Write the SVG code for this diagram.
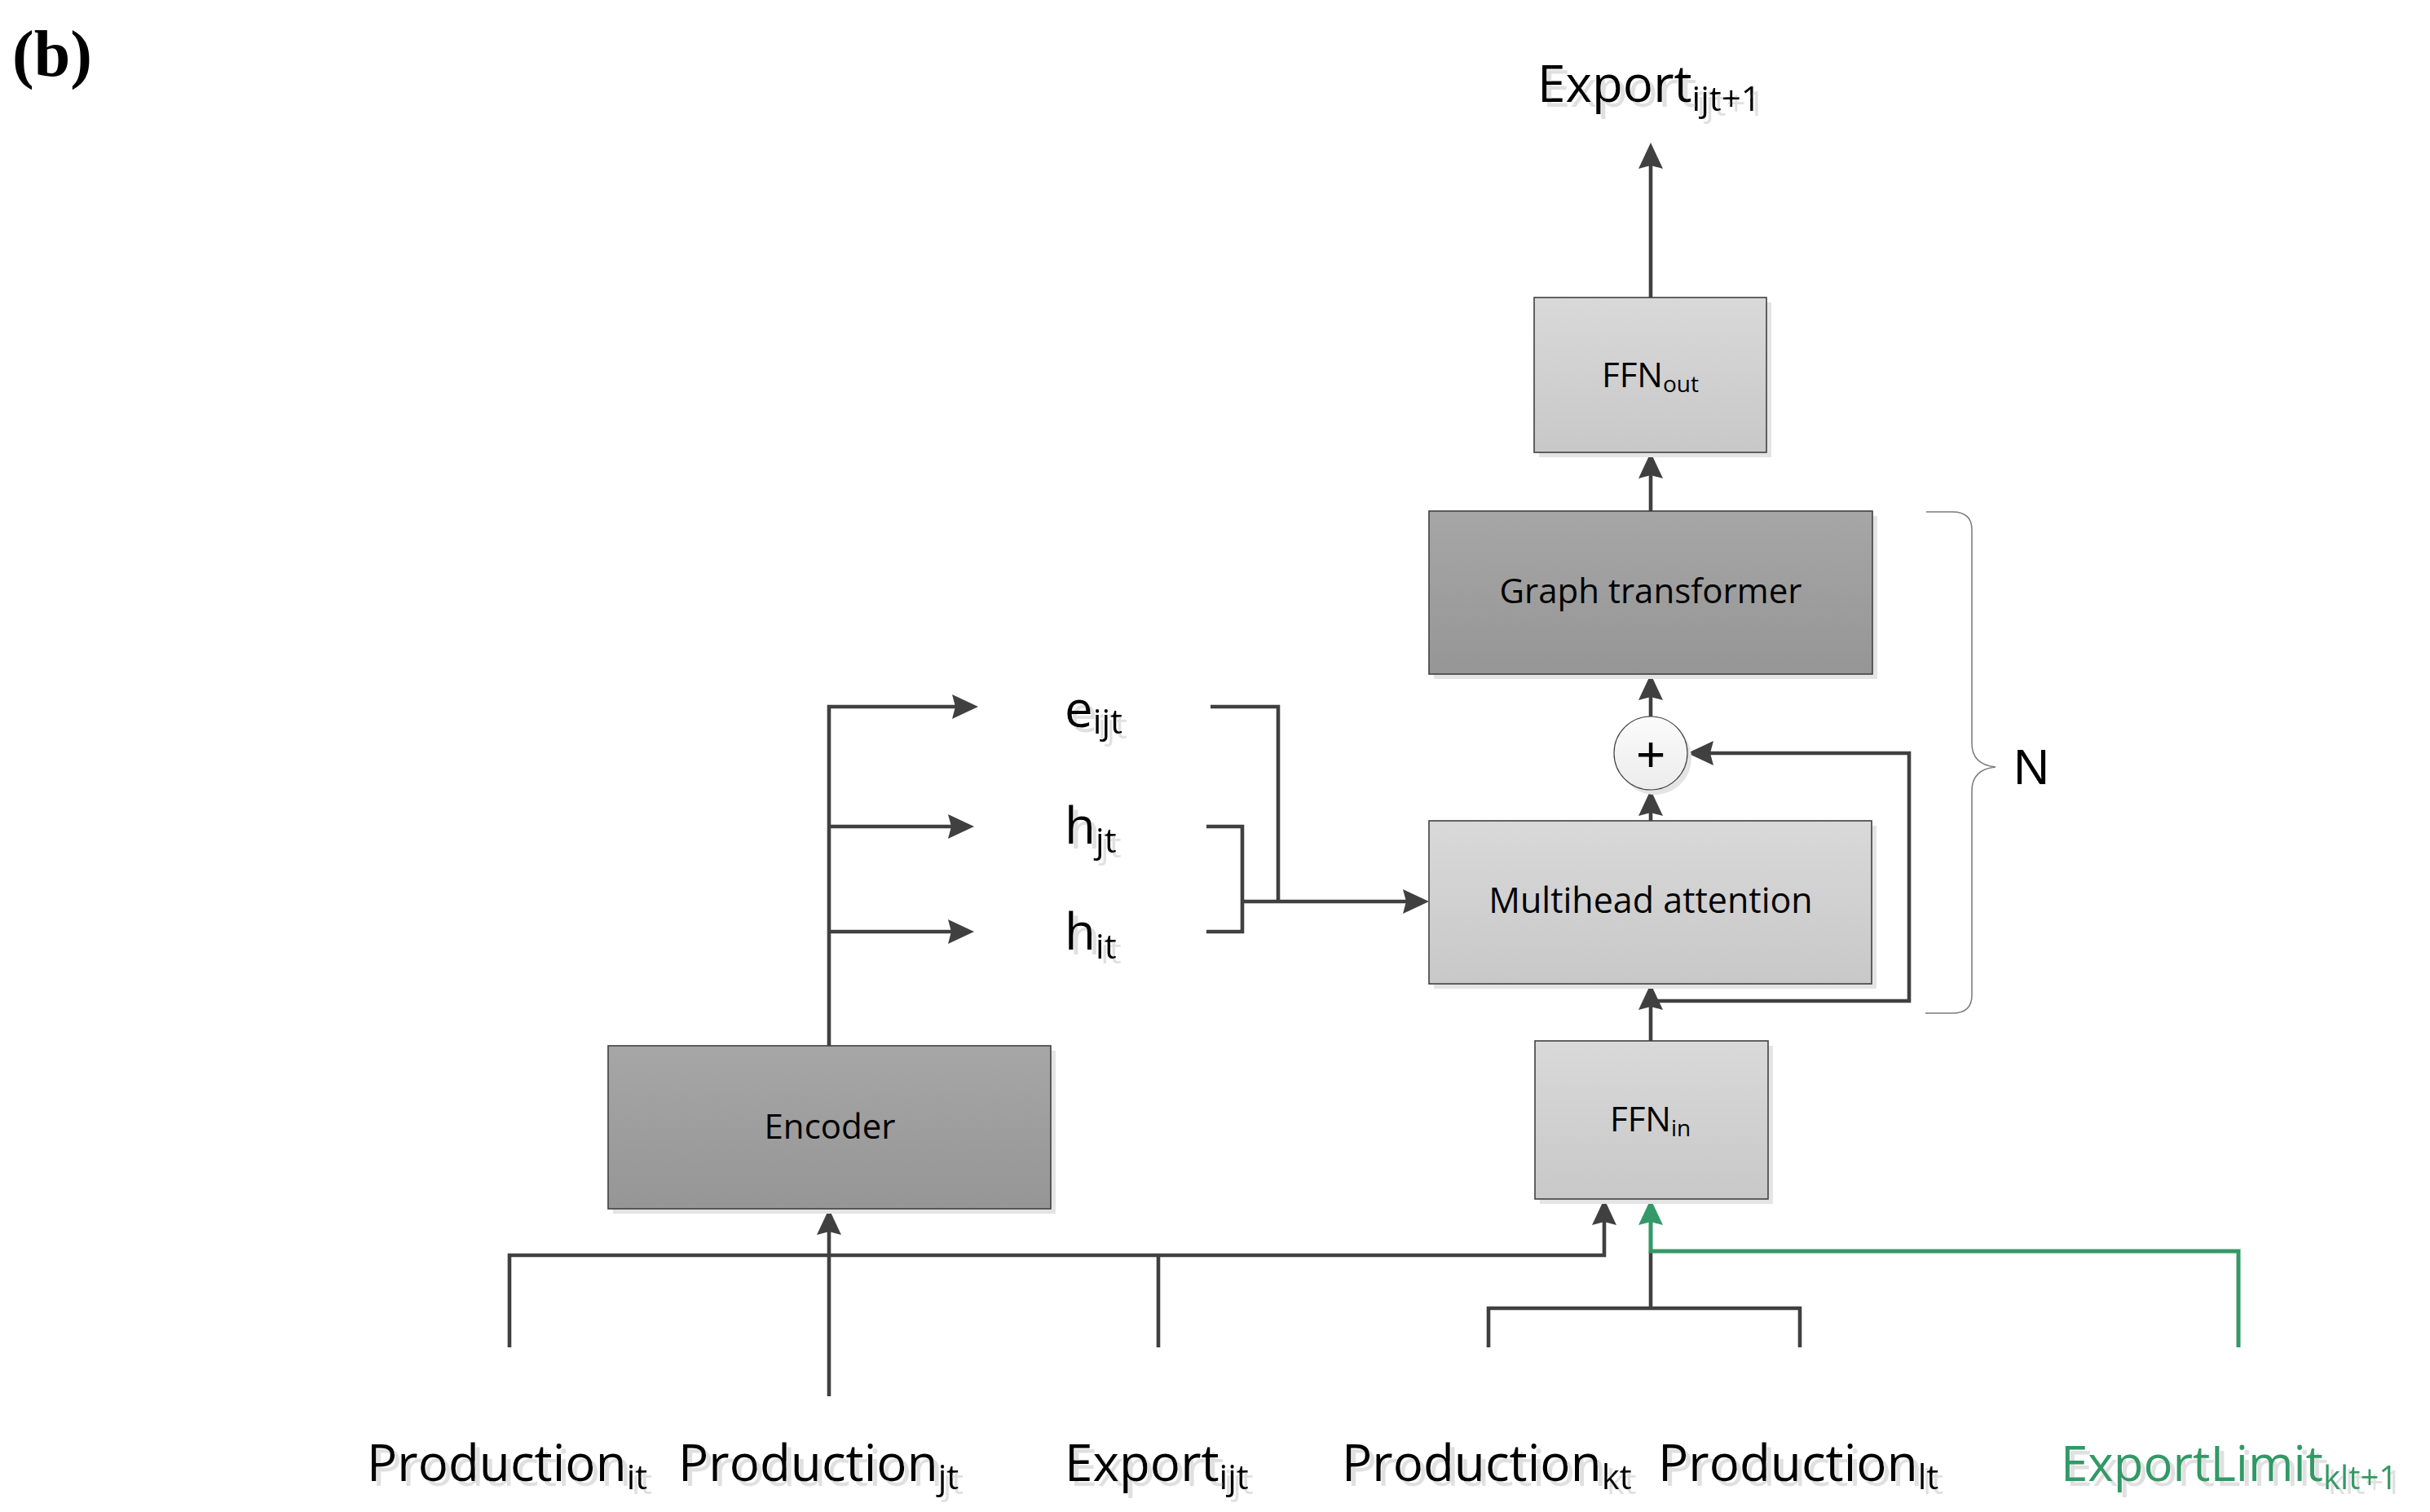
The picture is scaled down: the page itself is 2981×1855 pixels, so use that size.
<svg xmlns="http://www.w3.org/2000/svg" width="2981" height="1855" viewBox="0 0 2981 1855">
<style>
.t{font-family:'Open Sans','Noto Sans',sans-serif;fill:#000}
.sd{filter:url(#tsh)}
.box{stroke:#404040;stroke-width:1.6}
.bsh{fill:#e4e4e4}
.c{fill:none;stroke:#404040;stroke-width:4.6;stroke-linejoin:miter}
.g{fill:none;stroke:#339966;stroke-width:5}
.lbl{font-size:62px}
.bt{font-size:42px}
</style>
<defs>
<filter id="tsh" x="-5%" y="-20%" width="115%" height="150%">
<feFlood flood-color="#e0e0e0" result="f"/>
<feComposite in="f" in2="SourceAlpha" operator="in" result="s"/>
<feOffset in="s" dx="6" dy="6" result="o"/>
<feMerge><feMergeNode in="o"/><feMergeNode in="SourceGraphic"/></feMerge>
</filter>
<linearGradient id="light" x1="0" y1="0" x2="0" y2="1"><stop offset="0" stop-color="#d9d9d9"/><stop offset="1" stop-color="#c8c8c8"/></linearGradient>
<linearGradient id="dark" x1="0" y1="0" x2="0" y2="1"><stop offset="0" stop-color="#a6a6a6"/><stop offset="1" stop-color="#969696"/></linearGradient>
<linearGradient id="circ" x1="0" y1="0" x2="0" y2="1"><stop offset="0" stop-color="#fbfbfb"/><stop offset="1" stop-color="#ececec"/></linearGradient>
<marker id="ah" viewBox="0 0 32 32" refX="24" refY="16" markerWidth="32" markerHeight="32" markerUnits="userSpaceOnUse" orient="auto"><path d="M0,1 L32,16 L0,31 L4,16 Z" fill="#404040"/></marker>
<marker id="ahg" viewBox="0 0 32 32" refX="24" refY="16" markerWidth="32" markerHeight="32" markerUnits="userSpaceOnUse" orient="auto"><path d="M0,1 L32,16 L0,31 L4,16 Z" fill="#339966"/></marker>
</defs>
<rect width="2981" height="1855" fill="#fff"/>

<g id="panel-label"><text x="15" y="93" font-family="'Liberation Serif',serif" font-weight="bold" font-size="80">(b)</text></g>

<g id="connectors">
<path class="c" d="M2025,365 V183" marker-end="url(#ah)"/>
<path class="c" d="M2025,627 V563" marker-end="url(#ah)"/>
<path class="c" d="M2025,879 V835" marker-end="url(#ah)"/>
<path class="c" d="M2025,1007 V977" marker-end="url(#ah)"/>
<path class="c" d="M2025,1277 V1215" marker-end="url(#ah)"/>
<path class="c" d="M2025,1228 H2342 V924 H2078" marker-end="url(#ah)"/>
<path class="c" d="M1017,1283 V867 H1192" marker-end="url(#ah)"/>
<path class="c" d="M1017,1014 H1187" marker-end="url(#ah)"/>
<path class="c" d="M1017,1143 H1187" marker-end="url(#ah)"/>
<path class="c" d="M1485,867 H1568 V1106"/>
<path class="c" d="M1480,1014 H1524 V1143 H1480"/>
<path class="c" d="M1524,1106 H1745" marker-end="url(#ah)"/>
<path class="c" d="M625,1653 V1540 H1968 V1479" marker-end="url(#ah)"/>
<path class="c" d="M1421,1653 V1540"/>
<path class="c" d="M1017,1713 V1491" marker-end="url(#ah)"/>
<path class="c" d="M1826,1653 V1605 H2208 V1653"/>
<path class="c" d="M2025,1605 V1535"/>
<path class="g" d="M2746,1653 V1535 H2025 V1479" marker-end="url(#ahg)"/>
</g>

<g id="ffn-out">
<rect class="bsh" x="1888" y="371" width="285" height="190"/>
<rect class="box" x="1882" y="365" width="285" height="190" fill="url(#light)"/>
<text class="t bt" x="1965" y="475">FFN<tspan font-size="28" dy="6">out</tspan></text>
</g>

<g id="graph-transformer">
<rect class="bsh" x="1759" y="633" width="544" height="200"/>
<rect class="box" x="1753" y="627" width="544" height="200" fill="url(#dark)"/>
<text class="t bt" x="2025" y="740" text-anchor="middle">Graph transformer</text>
</g>

<g id="add">
<circle cx="2030" cy="930" r="45" fill="#e4e4e4"/>
<circle cx="2025" cy="924" r="45" fill="url(#circ)" stroke="#404040" stroke-width="1.2"/>
<text x="2025" y="946" text-anchor="middle" font-family="'Liberation Sans',sans-serif" font-size="62">+</text>
</g>

<g id="multihead-attention">
<rect class="bsh" x="1759" y="1013" width="543" height="200"/>
<rect class="box" x="1753" y="1007" width="543" height="200" fill="url(#light)"/>
<text class="t" font-size="43" x="2025" y="1120" text-anchor="middle">Multihead attention</text>
</g>

<g id="ffn-in">
<rect class="bsh" x="1889" y="1283" width="286" height="194"/>
<rect class="box" x="1883" y="1277" width="286" height="194" fill="url(#light)"/>
<text class="t bt" x="1975" y="1388">FFN<tspan font-size="28" dy="6">in</tspan></text>
</g>

<g id="encoder">
<rect class="bsh" x="752" y="1289" width="543" height="200"/>
<rect class="box" x="746" y="1283" width="543" height="200" fill="url(#dark)"/>
<text class="t bt" x="1018" y="1397" text-anchor="middle">Encoder</text>
</g>

<g id="out-export">
<text class="t lbl sd" x="1886" y="125">Export<tspan font-size="42" dy="11">ijt+1</tspan></text>
</g>

<g id="e-ijt">
<text class="t lbl sd" x="1306" y="892">e<tspan font-size="42" dy="8">ijt</tspan></text>
</g>
<g id="h-jt">
<text class="t lbl sd" x="1306" y="1035">h<tspan font-size="42" dy="11">jt</tspan></text>
</g>
<g id="h-it">
<text class="t lbl sd" x="1306" y="1165">h<tspan font-size="42" dy="11">it</tspan></text>
</g>

<g id="repeat-brace">
<path d="M2363,628 H2395 Q2419,628 2419,650 V912 Q2419,938 2448,941 Q2419,944 2419,970 V1221 Q2419,1243 2395,1243 H2362" fill="none" stroke="#7a7a7a" stroke-width="1.5"/>
<text x="2470" y="962" font-family="'Liberation Sans',sans-serif" font-size="61">N</text>
</g>

<g id="in-production-it">
<text class="t lbl sd" x="450" y="1817">Production<tspan font-size="42" dy="10">it</tspan></text>
</g>
<g id="in-production-jt">
<text class="t lbl sd" x="832" y="1817">Production<tspan font-size="42" dy="10">jt</tspan></text>
</g>
<g id="in-export-ijt">
<text class="t lbl sd" x="1306" y="1817">Export<tspan font-size="42" dy="10">ijt</tspan></text>
</g>
<g id="in-production-kt">
<text class="t lbl sd" x="1646" y="1817">Production<tspan font-size="42" dy="10">kt</tspan></text>
</g>
<g id="in-production-lt">
<text class="t lbl sd" x="2034" y="1817">Production<tspan font-size="42" dy="10">lt</tspan></text>
</g>
<g id="in-exportlimit">
<text class="t sd" font-size="60" x="2528" y="1817" style="fill:#339966">ExportLimit<tspan font-size="40" dy="10">klt+1</tspan></text>
</g>
</svg>
